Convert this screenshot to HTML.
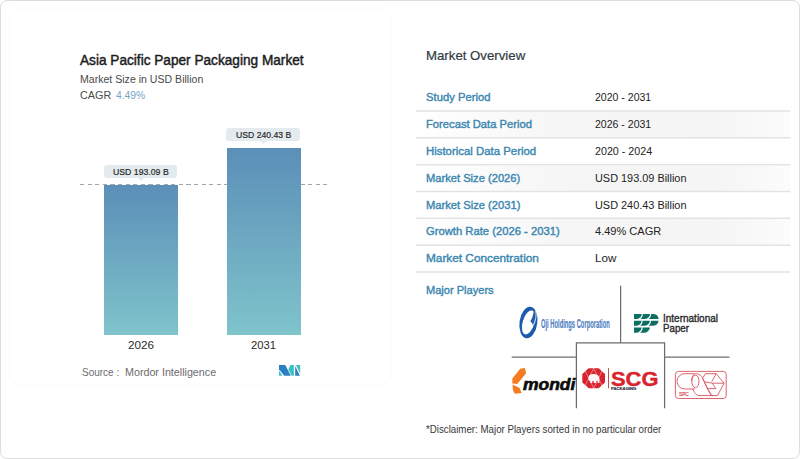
<!DOCTYPE html>
<html><head><meta charset="utf-8"><title>Asia Pacific Paper Packaging Market</title>
<style>
html,body{margin:0;padding:0;background:#fff;}
body{width:800px;height:459px;overflow:hidden;font-family:"Liberation Sans",sans-serif;}
#root{position:relative;width:800px;height:459px;background:#fff;overflow:hidden;}
.frame{position:absolute;left:0;top:0;width:798px;height:457px;border:1.5px solid #dddddd;border-radius:7px;box-sizing:content-box;}
.card{position:absolute;left:10px;top:9px;width:381px;height:376px;border-radius:13px;background:#fff;box-shadow:0 0 3px rgba(0,0,0,0.045);}
.t{position:absolute;white-space:pre;transform-origin:0 50%;}
.bar{position:absolute;background:linear-gradient(180deg,#5b8fb8 0%,#7fc4cb 100%);}
.pill{position:absolute;background:#e3ebee;border-radius:3px;}
.pill:after{content:"";position:absolute;left:50%;bottom:-3px;margin-left:-3px;border-left:3px solid transparent;border-right:3px solid transparent;border-top:3px solid #e3ebee;}
.dash{position:absolute;height:1px;background:repeating-linear-gradient(90deg,#979c9f 0,#979c9f 4.2px,transparent 4.2px,transparent 7.6px);}
.sep{position:absolute;left:416px;width:374.5px;height:1.4px;background:#e2e2e2;}
.rowbg{position:absolute;left:416px;width:374px;background:linear-gradient(90deg,#fff 0%,#f6f6f6 38%,#f5f5f5 80%,#fcfcfc 100%);}
.ln{position:absolute;background:#6a6a6a;}
svg{position:absolute;overflow:visible;}

</style></head>
<body>
<div id="root">
<div class="frame"></div>
<div class="card"></div>
<!-- chart -->
<div class="dash" style="left:79.5px;top:184px;width:248px;opacity:.9"></div>
<div class="bar" style="left:104px;top:184.5px;width:74px;height:150px;"></div>
<div class="bar" style="left:227px;top:147.5px;width:74px;height:187px;"></div>
<div class="pill" style="left:104px;top:164.6px;width:73.3px;height:13.5px;"></div>
<div class="pill" style="left:226px;top:127.8px;width:73.5px;height:13.5px;"></div>
<!-- table -->
<div class="rowbg" style="top:112px;height:25px;"></div>
<div class="rowbg" style="top:166px;height:25px;"></div>
<div class="rowbg" style="top:219px;height:25px;"></div>
<svg style="left:0;top:0;" width="800" height="459" viewBox="0 0 800 459"><g fill="#e3e3e3"><rect x="416" y="110.25" width="374.5" height="1.5"/><rect x="416" y="137.05" width="374.5" height="1.5"/><rect x="416" y="163.95" width="374.5" height="1.5"/><rect x="416" y="190.75" width="374.5" height="1.5"/><rect x="416" y="217.55" width="374.5" height="1.5"/><rect x="416" y="244.45" width="374.5" height="1.5"/><rect x="416" y="271.25" width="374.5" height="1.5"/></g></svg>
<!-- players grid lines -->
<svg style="left:0;top:0;" width="800" height="459" viewBox="0 0 800 459">
<rect x="576.4" y="342.8" width="88.2" height="65.4" fill="#fff"/>
<g fill="none" stroke="#6c6c6c" stroke-width="1.25">
<path d="M620.6,285.7 V342.8"/>
<path d="M511.7,357.1 H576.4"/>
<path d="M664.6,357.1 H729.4"/>
<path d="M576.4,408.2 V342.8 H664.6 V408.2"/>
</g></svg>
<!-- mordor logo -->
<svg style="left:278.9px;top:365.1px;" width="21.2" height="10.7" viewBox="0 0 21.2 10.7">
<polygon points="0,0 6.3,0 11.8,10.7 5.2,10.7 0,4.3" fill="#2c7fc0"/>
<polygon points="0,5.6 3.4,10.7 0,10.7" fill="#3fbfc4"/>
<polygon points="11.5,0 14.9,0 14.9,10.7 12.6,10.7 9.3,4.4" fill="#3fbfc4"/>
<polygon points="16.2,0.9 20.9,10.7 16.2,10.7" fill="#2c7fc0"/>
<polygon points="17.0,0 21.2,0 21.2,8.4" fill="#3fbfc4"/>
</svg>
<!-- Oji -->
<svg style="left:515px;top:303px;" width="30" height="40" viewBox="515 303 30 40">
<ellipse cx="528.4" cy="322.5" rx="8.9" ry="15.9" fill="#1d5cab" transform="rotate(8 528.4 322.5)"/>
<ellipse cx="528.6" cy="322.4" rx="5.9" ry="12.4" fill="#fff" transform="rotate(17 528.6 322.4)"/>
<path d="M533.9,309.6 C536.0,313.4 535.8,320.6 532.9,325.4 C532.6,323.4 531.6,322.2 530.2,321.6 C532.4,318.4 533.6,314.2 533.9,309.6 Z" fill="#1d5cab"/>
<path d="M535.5,310.6 C536.6,315 536.0,320.6 533.6,324.6" stroke="#fff" stroke-width="0.7" fill="none"/>
</svg>
<!-- IP -->
<svg style="left:634.2px;top:314px;" width="24.6" height="18.8" viewBox="0 0 24.6 18.8">
<g fill="#0c6f62">
<path d="M0,0 H7.9 C7.4,2.8 5.6,4.6 2.8,5.0 H0 Z"/>
<path d="M8.9,0 H16.2 C15.7,2.8 13.9,4.6 11.1,5.0 H6.4 C7.9,4.0 8.7,2.2 8.9,0 Z"/>
<path d="M17.2,0 H19.8 C22.8,0.3 24.3,2.3 24.6,5.0 H14.8 C16.3,4.0 17.0,2.2 17.2,0 Z"/>
<path d="M0,6.7 H7.7 C7.2,9.5 5.4,11.3 2.6,11.7 H0 Z"/>
<path d="M8.7,6.7 H16.0 C15.5,9.5 13.7,11.3 10.9,11.7 H6.2 C7.7,10.7 8.5,8.9 8.7,6.7 Z"/>
<path d="M17.0,6.7 H24.6 C24.2,9.5 22.4,11.4 19.4,11.7 H14.6 C16.1,10.7 16.8,8.9 17.0,6.7 Z"/>
<path d="M0,13.5 H7.7 C7.2,16.4 5.4,18.3 2.6,18.8 H0 Z"/>
<path d="M8.7,13.5 H16.0 C15.4,16.4 13.6,18.3 10.8,18.8 H6.2 C7.7,17.7 8.5,15.8 8.7,13.5 Z"/>
</g>
</svg>
<!-- mondi -->
<svg style="left:510px;top:366px;" width="20" height="30" viewBox="510 366 20 30">
<polygon points="520.2,368.8 524.9,368.0 526.1,373.3 517.2,384.0 512.3,383.4 512.4,378.6" fill="#f47b20"/>
<polygon points="512.5,384.6 519.6,388.0 521.6,393.0 514.8,393.8 512.9,390.0" fill="#f47b20"/>
</svg>
<!-- SCG -->
<svg style="left:580px;top:366px;" width="30" height="26" viewBox="580 366 30 26">
<polygon points="588.6,368.3 598.7,368.3 605.0,374.0 605.0,382.6 598.6,388.2 588.8,388.2 582.3,382.6 582.3,374.0" fill="#d9232e"/>
<g stroke="#fff" stroke-width="0.5" fill="none" opacity="0.85">
<path d="M593.7,368.3 L603.2,388 M593.7,368.3 L584,388 M593.7,388.2 L603.2,368.6 M593.7,388.2 L584,368.6"/>
</g>
<path d="M588.4,378.2 C588.4,375.4 590.4,374.0 593.2,374.0 C596.8,374.0 599.4,375.6 599.4,379 L599.4,383 L597.8,383 L597.6,380.8 L596.2,380.8 L596,383 L593.8,383 L593.6,381 L592.4,381 L592.2,383 L590.2,383 L590.2,381 C589.0,380.8 588.4,379.8 588.4,378.2 Z" fill="#fff" opacity="0.95"/>
<rect x="608" y="368.1" width="0.9" height="20.2" fill="#b63a40"/>
</svg>
<!-- SPC -->
<svg style="left:675.1px;top:370.6px;" width="51.6" height="27.9" viewBox="0 0 51.6 27.9">
<g fill="none" stroke="#d9545f" stroke-width="0.9">
<rect x="0.4" y="0.4" width="50.8" height="27.1" rx="3" ry="3"/>
<path d="M19.7,2.7 H9.6 A7.6,7.65 0 0 0 9.6,18 H19.7"/>
<ellipse cx="20.4" cy="10.4" rx="3.6" ry="6.3"/>
<path d="M16.6,10.4 C16.6,5.6 18.6,2.7 21.4,2.7 C27.6,2.7 28.6,11 33,18.6 C35.4,22.8 36.8,24.6 38.6,24.6"/>
<path d="M17.6,17.6 C19.2,21.6 21.4,24.6 24,24.6 H42.5"/>
<path d="M30.4,2.7 H41.2 L49.1,12.2 L42.5,24.6"/>
<path d="M30.4,2.7 L27.6,7.2 L36.2,24.6"/>
<path d="M41.2,2.7 L36.8,10.6 M49.1,12.2 H37.2 M29.6,10.8 L37.2,12.2 L40.8,17.6 L33.2,17.6"/>
</g>
</svg>

<div class="t" style="left:80.10px;top:52.60px;font-size:14px;line-height:14px;color:#1c1c1c;font-weight:400;font-style:normal;-webkit-text-stroke:0.45px #1c1c1c;transform:scaleX(0.9740)">Asia Pacific Paper Packaging Market</div>
<div class="t" style="left:80.00px;top:73.10px;font-size:11.7px;line-height:11.7px;color:#4a4a4a;font-weight:400;font-style:normal;transform:scaleX(0.9039)">Market Size in USD Billion</div>
<div class="t" style="left:80.00px;top:89.20px;font-size:11.7px;line-height:11.7px;color:#4a4a4a;font-weight:400;font-style:normal;transform:scaleX(0.9265)">CAGR</div>
<div class="t" style="left:115.90px;top:89.20px;font-size:11.7px;line-height:11.7px;color:#74a6c4;font-weight:400;font-style:normal;transform:scaleX(0.8811)">4.49%</div>
<div class="t" style="left:112.50px;top:167.10px;font-size:9.9px;line-height:9.9px;color:#262626;font-weight:400;font-style:normal;-webkit-text-stroke:0.2px #262626;transform:scaleX(0.8822)">USD 193.09 B</div>
<div class="t" style="left:235.70px;top:130.30px;font-size:9.9px;line-height:9.9px;color:#262626;font-weight:400;font-style:normal;-webkit-text-stroke:0.2px #262626;transform:scaleX(0.8758)">USD 240.43 B</div>
<div class="t" style="left:128.00px;top:339.40px;font-size:11.6px;line-height:11.6px;color:#2a2a2a;font-weight:400;font-style:normal;transform:scaleX(1.0079)">2026</div>
<div class="t" style="left:251.20px;top:339.40px;font-size:11.6px;line-height:11.6px;color:#2a2a2a;font-weight:400;font-style:normal;transform:scaleX(0.9691)">2031</div>
<div class="t" style="left:81.80px;top:368.30px;font-size:10.4px;line-height:10.4px;color:#6b6b6b;font-weight:400;font-style:normal;transform:scaleX(0.9612)">Source :</div>
<div class="t" style="left:124.70px;top:368.30px;font-size:10.4px;line-height:10.4px;color:#6b6b6b;font-weight:400;font-style:normal;transform:scaleX(1.0308)">Mordor Intelligence</div>
<div class="t" style="left:425.50px;top:50.00px;font-size:12.8px;line-height:12.8px;color:#2f3b44;font-weight:400;font-style:normal;-webkit-text-stroke:0.2px #2f3b44;transform:scaleX(1.0333)">Market Overview</div>
<div class="t" style="left:425.60px;top:91.30px;font-size:11.7px;line-height:11.7px;color:#3a86b0;font-weight:400;font-style:normal;-webkit-text-stroke:0.4px #3a86b0;transform:scaleX(0.9623)">Study Period</div>
<div class="t" style="left:425.60px;top:118.20px;font-size:11.7px;line-height:11.7px;color:#3a86b0;font-weight:400;font-style:normal;-webkit-text-stroke:0.4px #3a86b0;transform:scaleX(0.9598)">Forecast Data Period</div>
<div class="t" style="left:425.60px;top:145.00px;font-size:11.7px;line-height:11.7px;color:#3a86b0;font-weight:400;font-style:normal;-webkit-text-stroke:0.4px #3a86b0;transform:scaleX(0.9750)">Historical Data Period</div>
<div class="t" style="left:425.60px;top:171.80px;font-size:11.7px;line-height:11.7px;color:#3a86b0;font-weight:400;font-style:normal;-webkit-text-stroke:0.4px #3a86b0;transform:scaleX(0.9541)">Market Size (2026)</div>
<div class="t" style="left:425.60px;top:198.55px;font-size:11.7px;line-height:11.7px;color:#3a86b0;font-weight:400;font-style:normal;-webkit-text-stroke:0.4px #3a86b0;transform:scaleX(0.9561)">Market Size (2031)</div>
<div class="t" style="left:425.60px;top:225.40px;font-size:11.7px;line-height:11.7px;color:#3a86b0;font-weight:400;font-style:normal;-webkit-text-stroke:0.4px #3a86b0;transform:scaleX(0.9613)">Growth Rate (2026 - 2031)</div>
<div class="t" style="left:425.60px;top:252.30px;font-size:11.7px;line-height:11.7px;color:#3a86b0;font-weight:400;font-style:normal;-webkit-text-stroke:0.4px #3a86b0;transform:scaleX(1.0104)">Market Concentration</div>
<div class="t" style="left:425.60px;top:283.90px;font-size:11.7px;line-height:11.7px;color:#3a86b0;font-weight:400;font-style:normal;-webkit-text-stroke:0.4px #3a86b0;transform:scaleX(0.9468)">Major Players</div>
<div class="t" style="left:594.80px;top:91.30px;font-size:11.7px;line-height:11.7px;color:#222;font-weight:400;font-style:normal;transform:scaleX(0.9008)">2020 - 2031</div>
<div class="t" style="left:594.80px;top:118.20px;font-size:11.7px;line-height:11.7px;color:#222;font-weight:400;font-style:normal;transform:scaleX(0.9008)">2026 - 2031</div>
<div class="t" style="left:594.80px;top:145.00px;font-size:11.7px;line-height:11.7px;color:#222;font-weight:400;font-style:normal;transform:scaleX(0.9152)">2020 - 2024</div>
<div class="t" style="left:594.80px;top:171.80px;font-size:11.7px;line-height:11.7px;color:#222;font-weight:400;font-style:normal;transform:scaleX(0.9326)">USD 193.09 Billion</div>
<div class="t" style="left:594.80px;top:198.55px;font-size:11.7px;line-height:11.7px;color:#222;font-weight:400;font-style:normal;transform:scaleX(0.9326)">USD 240.43 Billion</div>
<div class="t" style="left:594.80px;top:225.40px;font-size:11.7px;line-height:11.7px;color:#222;font-weight:400;font-style:normal;transform:scaleX(0.9436)">4.49% CAGR</div>
<div class="t" style="left:594.80px;top:252.30px;font-size:11.7px;line-height:11.7px;color:#222;font-weight:400;font-style:normal;transform:scaleX(0.9975)">Low</div>
<div class="t" style="left:425.50px;top:425.40px;font-size:10.3px;line-height:10.3px;color:#383838;font-weight:400;font-style:normal;transform:scaleX(0.9430)">*Disclaimer: Major Players sorted in no particular order</div>
<div class="t" style="left:541.00px;top:317.00px;font-size:13.6px;line-height:13.6px;color:#4a7cc0;font-weight:700;font-style:normal;-webkit-text-stroke:0.15px #4a7cc0;transform:scaleX(0.4257)">Oji Holdings Corporation</div>
<div class="t" style="left:663.00px;top:313.10px;font-size:11.4px;line-height:11.4px;color:#2b2b2b;font-weight:400;font-style:normal;-webkit-text-stroke:0.4px #2b2b2b;transform:scaleX(0.8771)">International</div>
<div class="t" style="left:663.00px;top:323.00px;font-size:11.4px;line-height:11.4px;color:#2b2b2b;font-weight:400;font-style:normal;-webkit-text-stroke:0.4px #2b2b2b;transform:scaleX(0.8551)">Paper</div>
<div class="t" style="left:522.90px;top:377.00px;font-size:15.9px;line-height:15.9px;color:#0b0b0b;font-weight:700;font-style:italic;-webkit-text-stroke:0.6px #0b0b0b;transform:scaleX(1.0992)">mondi</div>
<div class="t" style="left:611.00px;top:369.70px;font-size:19.3px;line-height:19.3px;color:#d9232e;font-weight:700;font-style:normal;-webkit-text-stroke:0.4px #d9232e;transform:scaleX(1.1341)">SCG</div>
<div class="t" style="left:611.40px;top:387.30px;font-size:4.4px;line-height:4.4px;color:#262b36;font-weight:700;font-style:normal;-webkit-text-stroke:0.15px #262b36;transform:scaleX(0.9579)">PACKAGING</div>
<div class="t" style="left:679.00px;top:391.80px;font-size:5.8px;line-height:5.8px;color:#d9545f;font-weight:400;font-style:normal;-webkit-text-stroke:0.25px #d9545f;transform:scaleX(0.8220)">SPC</div>
</div>
</body></html>
